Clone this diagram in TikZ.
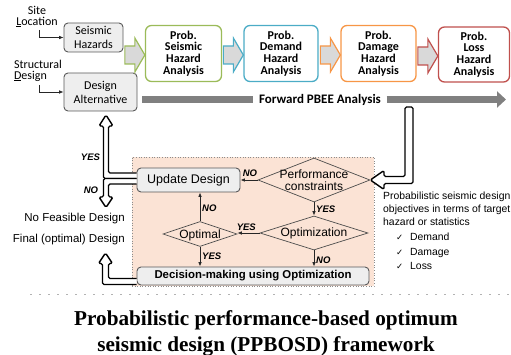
\documentclass[tikz,border=0pt]{standalone}
\usepackage{fontspec}
\setmainfont{Liberation Serif}
\setsansfont{Liberation Sans}
\newfontfamily\calfont{Carlito}
\newfontfamily\symfont{DejaVu Sans}
\usetikzlibrary{shapes.geometric,arrows.meta,calc}
\definecolor{boxfill}{HTML}{EEEEEE}
\definecolor{boxedge}{HTML}{595959}
\definecolor{cgreen}{HTML}{9BBB59}
\definecolor{cblue}{HTML}{4BACC6}
\definecolor{corange}{HTML}{F79646}
\definecolor{cred}{HTML}{C0504D}
\definecolor{arrfill}{HTML}{D9D9D9}
\definecolor{barcol}{HTML}{808080}
\definecolor{peach}{HTML}{FBE3D5}
\newcommand\blockarr[2]{%
  \draw[draw=#1, fill=arrfill, line width=1.2pt, line join=miter]
    ($(#2.west)+(0,1.5)$) -- ++(-10,-17) -- ++(0,8) -- ++(-10,0) -- ++(0,18) -- ++(10,0) -- ++(0,8) -- cycle;}
\begin{document}
\begin{tikzpicture}[x=1pt,y=-1pt,
  graybox/.style={draw=boxedge, fill=boxfill, rounded corners=4pt, line width=0.9pt, inner sep=0pt, align=center},
  calreg/.style={font=\calfont\fontsize{12}{13.5}\selectfont},
  probbox/.style={draw=#1, fill=white, rounded corners=6pt, line width=1.3pt, inner sep=0pt,
     minimum height=56pt, align=center, font=\calfont\bfseries\fontsize{12}{11.8}\selectfont},
  panel/.style={draw=black!45, dotted, fill=peach, line width=0.6pt, inner sep=0pt},
  dia/.style={diamond, draw=black!70, line width=0.7pt, inner sep=0pt},
  dtext/.style={font=\sffamily\fontsize{12}{13}\selectfont, align=center, inner sep=0pt},
  thinarr/.style={draw=black!85, line width=0.8pt, -{Latex[length=4.5pt,width=3.6pt]}},
  yn/.style={font=\sffamily\bfseries\itshape\fontsize{9.5}{10}\selectfont, inner sep=1.8pt},
  hollow/.style={draw=black, line width=1.4pt, fill=white, line join=round, rounded corners=1.5pt},
  bar/.style={draw=barcol, line width=7pt},
  sidetxt/.style={font=\sffamily\fontsize{11.5}{13}\selectfont, inner sep=0pt},
  objtxt/.style={font=\sffamily\fontsize{10.4}{13}\selectfont, inner sep=0pt, anchor=base west}
]
\useasboundingbox (0,0) rectangle (511,355);

% top-left labels
\node[calreg, align=center, inner sep=0pt, font=\calfont\fontsize{12}{11}\selectfont] (site) at (37,16.5) {Site\\\underline{L}ocation};
\node[calreg, align=left, inner sep=0pt, font=\calfont\fontsize{12}{11}\selectfont] (struct) at (38,70.5) {Structural\\\underline{D}esign};

% left gray boxes
\node[graybox, calreg, minimum width=59pt, minimum height=29pt] (sh) at (93.5,37.5) {Seismic\\Hazards};
\node[graybox, calreg, minimum width=73pt, minimum height=38pt, font=\calfont\fontsize{12}{14}\selectfont] (da) at (100.5,92) {Design\\Alternative};

\coordinate (c1) at (39,30);
\coordinate (c2) at (39,85);
\draw[thinarr, line width=0.7pt] (c1) |- (sh.west);
\draw[thinarr, line width=0.7pt] (c2) |- (da.west);

% probabilistic boxes
\node[probbox=cgreen, minimum width=76pt] (psha) at (183.5,53.5) {Prob.\\Seismic\\Hazard\\Analysis};
\node[probbox=cblue, minimum width=74pt] (pdha) at (281,53.5) {Prob.\\Demand\\Hazard\\Analysis};
\node[probbox=corange, minimum width=75pt] (pdmha) at (378.5,53.5) {Prob.\\Damage\\Hazard\\Analysis};
\node[probbox=cred, minimum width=71pt, minimum height=55pt] (plha) at (474,54.5) {Prob.\\Loss\\Hazard\\Analysis};

\blockarr{cgreen}{psha}
\blockarr{cblue}{pdha}
\blockarr{corange}{pdmha}
\blockarr{cred}{plha}

% forward PBEE bar
\node[font=\calfont\bfseries\fontsize{13}{13}\selectfont, inner sep=5.5pt] (fwd) at (320,99.5) {Forward PBEE Analysis};
\coordinate (barstart) at (142,99.5);
\coordinate (barend) at (506,99.5);
\draw[bar] (barstart) -- (fwd.west);
\draw[bar, -{Triangle[length=9pt,width=16pt]}] (fwd.east) -- (barend);

% panel
\node[panel, minimum width=242pt, minimum height=129pt] (panel) at (253,221.5) {};

\node[graybox, minimum width=103pt, minimum height=24pt, font=\sffamily\fontsize{12.5}{13}\selectfont] (ud) at (188.5,180) {Update Design};
\node[dia, minimum width=112pt, minimum height=44pt, label={[dtext]center:{Performance\\[-0.5pt]constraints}}] (pc) at (314,180) {};
\node[dia, minimum width=108pt, minimum height=34pt, label={[dtext]center:{Optimization}}] (optz) at (314,233) {};
\node[dia, minimum width=74pt, minimum height=25pt, label={[dtext, yshift=-1pt]center:{Optimal}}] (optl) at (200,234) {};
\node[graybox, minimum width=232pt, minimum height=18pt, font=\sffamily\bfseries\fontsize{11.4}{12}\selectfont] (dm) at (253,276) {Decision-making using Optimization};

\draw[thinarr] (pc.west) -- (pc.west -| ud.east) node[yn, pos=0.45, above, yshift=1pt] {NO};
\draw[thinarr] (pc.south) -- (optz.north) node[yn, midway, right] {YES};
\draw[thinarr] (optz.west) -- (optz.west -| optl.east) node[yn, pos=0.6, above, yshift=0.5pt] {YES};
\draw[thinarr] (optl.north) -- (optl.north |- ud.south) node[yn, pos=0.45, right] {NO};
\draw[thinarr] (optl.south) -- (optl.south |- dm.north) node[yn, midway, right] {YES};
\draw[thinarr] (optz.south) -- (optz.south |- dm.north) node[yn, pos=0.6, right] {NO};

% hollow arrows
\draw[hollow] ($(ud.west)+(0,-7)$) -- (108.5,173) -- (108.5,126) -- (113,126) -- (106,115) -- (99,126) -- (103.5,126) -- (103.5,178.5) -- ($(ud.west)+(0,-1.5)$);
\draw[hollow] ($(ud.west)+(0,-1.5)$) -- (103.5,178.5) -- (103.5,197) -- (99,197) -- (106,207.5) -- (113,197) -- (108.5,197) -- (108.5,184) -- ($(ud.west)+(0,4)$);
\draw[hollow] ($(dm.west)+(0,2.5)$) -- (108.5,278.5) -- (108.5,263.5) -- (112.5,263.5) -- (105.5,253) -- (98.5,263.5) -- (102.5,263.5) -- (102.5,284.5) -- ($(dm.west)+(0,8.5)$);
\draw[hollow] (405,107) -- (413,107) -- (413,183.5) -- (384,183.5) -- (384,189.5) -- (pc.east) -- (384,170.5) -- (384,176.5) -- (405,176.5) -- cycle;

\node[yn] (yesout) at (90.5,157.5) {YES};
\node[yn] (noout) at (91,190.5) {NO};

% left outcomes
\node[sidetxt, anchor=base east] (nofeas) at (125,222) {No Feasible Design};
\node[sidetxt, anchor=base east] (final) at (125,243) {Final (optimal) Design};

% objectives
\node[objtxt] (obj1) at (383,200) {Probabilistic seismic design};
\node[objtxt] (obj2) at (383,213) {objectives in terms of target};
\node[objtxt] (obj3) at (383,226) {hazard or statistics};
\node[objtxt, font=\symfont\fontsize{8.5}{10}\selectfont] (k1) at (396,241) {✓};
\node[objtxt] (chk1) at (410,241) {Demand};
\node[objtxt, font=\symfont\fontsize{8.5}{10}\selectfont] (k2) at (396,255.5) {✓};
\node[objtxt] (chk2) at (410,255.5) {Damage};
\node[objtxt, font=\symfont\fontsize{8.5}{10}\selectfont] (k3) at (396,269.5) {✓};
\node[objtxt] (chk3) at (410,269.5) {Loss};

% faint cut-off line
\draw[black!30, line width=0.7pt, dash pattern=on 2pt off 7pt] (30,294) -- (511,294);

% title
\node[font=\bfseries\fontsize{21.2}{26}\selectfont, anchor=base, inner sep=0pt] (t1) at (266,325) {Probabilistic performance-based optimum};
\node[font=\bfseries\fontsize{21.2}{26}\selectfont, anchor=base, inner sep=0pt] (t2) at (266,351.5) {seismic design (PPBOSD) framework};
\end{tikzpicture}
\end{document}
